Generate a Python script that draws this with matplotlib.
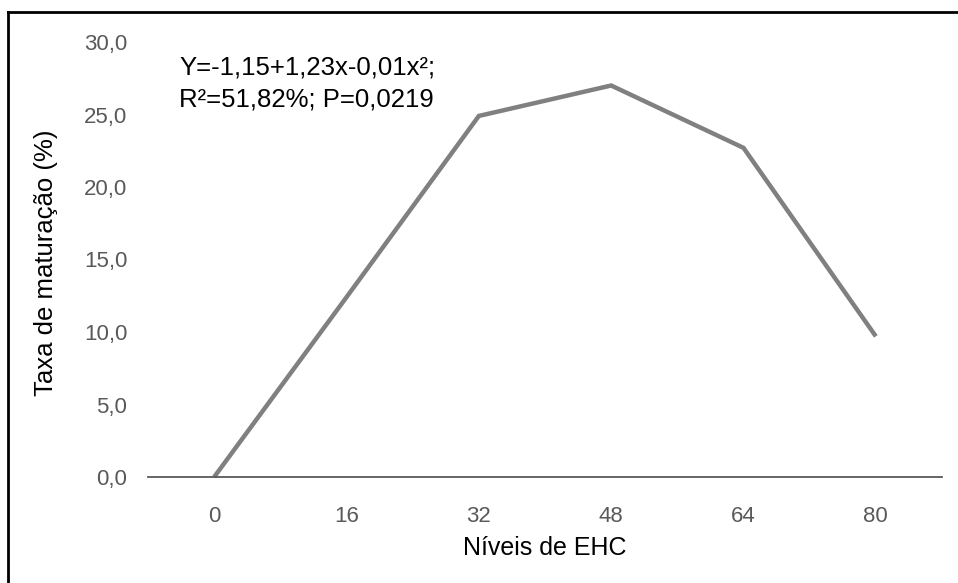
import matplotlib.pyplot as plt
from matplotlib.lines import Line2D

plt.rcParams['font.family'] = ['Liberation Sans', 'DejaVu Sans']

niveis = ['0', '16', '32', '48', '64', '80']
taxa = [0.0, 12.4, 24.9, 27.0, 22.7, 9.7]
yticks = [0, 5, 10, 15, 20, 25, 30]

fig = plt.figure(figsize=(9.58, 5.83), dpi=100)
ax = fig.add_axes([148/958, 1 - 477/583, (942 - 148)/958, (477 - 42)/583])

x = range(len(niveis))
ax.plot(x, taxa, color='#808080', lw=3.2, solid_capstyle='butt', solid_joinstyle='miter', clip_on=False)

ax.set_xlim(-0.5, len(niveis) - 0.5)
ax.set_ylim(0, 30)
ax.set_xticks(list(x))
ax.set_xticklabels(niveis)
ax.set_yticks(yticks)
ax.set_yticklabels([f'{v:.1f}'.replace('.', ',') for v in yticks])
ax.tick_params(axis='both', length=0, labelsize=16, colors='#595959')
ax.tick_params(axis='x', pad=21)
ax.tick_params(axis='y', pad=15)

for s in ['left', 'right', 'top']:
    ax.spines[s].set_visible(False)
ax.spines['bottom'].set_color('#595959')
ax.spines['bottom'].set_linewidth(1.3)

fig.text(46/958, 1 - 263/583, 'Taxa de maturação (%)', rotation=90, ha='center', va='center',
         fontsize=18.5, color='#000000')
fig.text(545/958, 1 - 555/583, 'Níveis de EHC', ha='center', va='baseline', fontsize=18, color='#000000')

fig.text(179/958, 1 - 75/583, 'Y=-1,15+1,23x-0,01x²;', ha='left', va='baseline', fontsize=18.5, color='#000000')
fig.text(179/958, 1 - 107/583, 'R²=51,82%; P=0,0219', ha='left', va='baseline', fontsize=18.5, color='#000000')

# moldura (apenas esquerda e topo visíveis)
fig.add_artist(Line2D([8/958, 8/958], [0, 1 - 12/583], transform=fig.transFigure, color='black', lw=2))
fig.add_artist(Line2D([8/958, 1], [1 - 12/583, 1 - 12/583], transform=fig.transFigure, color='black', lw=2))

fig.savefig('out.png', dpi=100)
